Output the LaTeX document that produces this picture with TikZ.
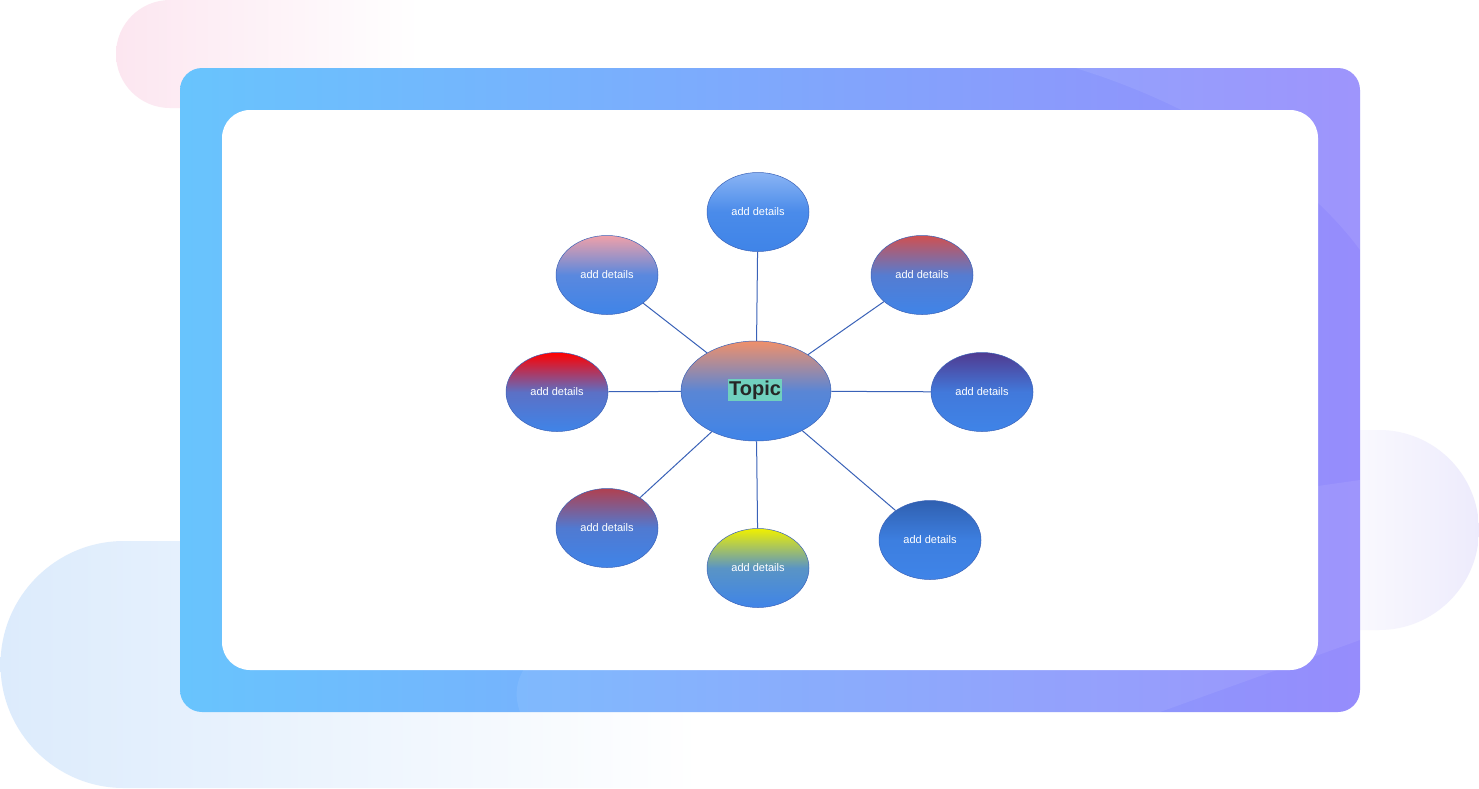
\documentclass[tikz,border=0pt]{standalone}
\usepackage{fontspec}
\setmainfont{Liberation Sans}
\usetikzlibrary{shapes.geometric}
\definecolor{nblue}{HTML}{3F84E8}
\definecolor{edgec}{HTML}{3A62B8}
\definecolor{cA}{HTML}{8AB4F4}
\definecolor{cB}{HTML}{F0A0A8}
\definecolor{cC}{HTML}{D05050}
\definecolor{cD}{HTML}{FF0000}
\definecolor{cE}{HTML}{503A90}
\definecolor{cF}{HTML}{B04050}
\definecolor{cG}{HTML}{F0F000}
\definecolor{cH}{HTML}{3060B0}
\definecolor{cT}{HTML}{F0906A}
\definecolor{hl}{HTML}{70D0BE}
\definecolor{frL}{HTML}{68C4FD}
\definecolor{frR}{HTML}{968CFC}
\definecolor{pk}{HTML}{FCE6F0}
\definecolor{lb}{HTML}{DCEBFC}
\definecolor{lv}{HTML}{EDEBFC}
\begin{document}
\begin{tikzpicture}[x=1pt,y=-1pt,
  det/.style={ellipse,draw=edgec,line width=0.5pt,minimum width=102pt,minimum height=79pt,inner sep=0pt,text=white,font=\fontsize{11}{12}\selectfont,top color=#1,bottom color=nblue,middle color=nblue!85!#1},
  link/.style={draw=edgec,line width=1pt}]
\useasboundingbox (0,0) rectangle (1479,788);
\fill[white] (0,0) rectangle (1479,788);
\shade[left color=pk,right color=white] (170,0) -- (420,0) -- (420,108) -- (170,108) arc[start angle=90,end angle=270,radius=54] -- cycle;
\shade[left color=lb,right color=white] (124,541) -- (700,541) -- (700,788) -- (124,788) arc[start angle=90,end angle=270,radius=123.5] -- cycle;
\shade[left color=white,right color=lv] (1300,430) -- (1379,430) arc[start angle=270,end angle=450,radius=100] -- (1300,630) -- cycle;
\shade[left color=frL,right color=frR,rounded corners=22] (180,68) rectangle (1360,712);
\fill[white,opacity=0.08] (780,68) .. controls (950,-10) and (1250,100) .. (1360,250) -- (1360,68) -- cycle;
\fill[white,opacity=0.08] (520,712) .. controls (480,600) and (800,560) .. (1360,480) -- (1360,640) -- (1160,712) -- cycle;
\fill[white,rounded corners=28] (222,110) rectangle (1318,670);
\node[det=cA] (n1) at (758,212) {add details};
\node[det=cB] (n2) at (607,275) {add details};
\node[det=cC] (n3) at (922,275) {add details};
\node[det=cD] (n4) at (557,392) {add details};
\node[det=cE] (n5) at (982,392) {add details};
\node[det=cF] (n6) at (607,528) {add details};
\node[det=cG] (n7) at (758,568) {add details};
\node[det=cH] (n8) at (930,540) {add details};
\node[det=cT,minimum width=150pt,minimum height=100pt] (c) at (756,391) {};
\node[fill=hl,inner sep=1.5pt,font=\bfseries\fontsize{20}{22}\selectfont,text=black!85] (t) at (755,390) {Topic};
\foreach \n in {n1,n2,n3,n4,n5,n6,n7,n8} \draw[link] (c) -- (\n);
\end{tikzpicture}
\end{document}
